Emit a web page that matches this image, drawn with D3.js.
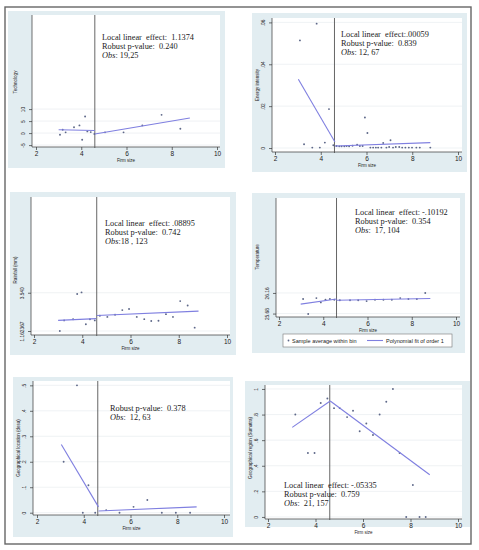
<!DOCTYPE html>
<html>
<head>
<meta charset="utf-8">
<script src="https://cdn.jsdelivr.net/npm/d3@7"></script>
<style>
  body { margin: 0; background: #fff; }
  svg { display: block; }
  .note { white-space: pre; }
</style>
</head>
<body>
<svg width="479" height="550"></svg>
<script>
// values
var xTicks = [2, 4, 6, 8, 10];
var cutoff = 4.6;

var techX = [3.06, 3.18, 3.31, 3.68, 3.92, 4.04, 4.17, 4.27, 4.42, 4.58, 5.05, 5.87, 6.7, 7.55, 8.38];
var techY = [-0.7, 1.4, 0.3, 2.4, 3.2, -2.8, 6.9, 0.7, 0.4, -0.4, 0.3, 0.3, 3.2, 7.6, 1.8];
var techFitLeft = [[3.0, 1.4], [4.6, 1.1]];
var techFitRight = [[4.6, -0.4], [8.8, 6.25]];
var techTicks = [-5, 0, 5, 10];
var techTickLabels = ["-5", "0", "5", "10"];
var techNotes = ["Local linear  effect:  1.1374", "Robust p-value:  0.240", "Obs: 19,25"];

var energyX = [3.09, 3.82, 3.27, 3.63, 3.96, 4.18, 4.36, 4.55,
  4.69, 4.81, 4.91, 5.03, 5.13, 5.24, 5.39, 5.59, 5.71, 5.83, 5.93, 6.04, 6.17, 6.29, 6.41, 6.51,
  6.65, 6.73, 6.87, 6.99, 7.05, 7.16, 7.28, 7.43, 7.56, 7.7, 7.85, 7.99, 8.18, 8.33, 8.79];
var energyY = [0.0514, 0.0594, 0.0018, 0.0002, 0.0002, 0.0026, 0.0186, 0.0013,
  0.001, 0.0008, 0.0008, 0.0008, 0.001, 0.0008, 0.0011, 0.0016, 0.001, 0.001, 0.0146, 0.0072, 0.0002, 0.0002, 0.0002, 0.0002,
  0.0002, 0.0024, 0.0002, 0.0005, 0.0037, 0.0002, 0.0005, 0.0005, 0.0002, 0.0002, 0.0002, 0.0002, 0.0002, 0.0002, 0.0002];
var energyFitLeft = [[3.02, 0.0328], [4.62, 0.0029]];
var energyFitRight = [[4.62, 0.001], [8.79, 0.0026]];
var energyTicks = [0, 0.02, 0.04, 0.06];
var energyTickLabels = ["0", ".02", ".04", ".06"];
var energyNotes = ["Local linear  effect:.00059", "Robust p-value:  0.839", "Obs: 12, 67"];

var rainX = [3.07, 3.25, 3.62, 3.79, 3.97, 4.15, 4.32, 4.52, 4.73, 5.04, 5.36, 5.66, 5.94, 6.26, 6.57, 6.86, 7.16, 7.47, 7.76, 8.06, 8.37, 8.66];
var rainY = [1.16, 1.82, 1.89, 3.46, 3.56, 1.58, 1.89, 1.82, 2.11, 2.04, 2.17, 2.46, 2.53, 2.04, 1.9, 1.78, 1.8, 2.21, 2.04, 3.02, 2.75, 1.37];
var rainFitLeft = [[3.0, 1.82], [4.58, 1.93]];
var rainFitRight = [[4.6, 2.13], [8.82, 2.40]];
var rainTicks = [1.162367, 3.540];
var rainTickLabels = ["1.162367", "3.540"];
var rainNotes = ["Local linear  effect: .08895", "Robust p-value:  0.742", "Obs:18 , 123"];

var tempX = [3.09, 3.32, 3.69, 3.89, 4.1, 4.3, 4.5, 4.75, 5.21, 5.58, 5.96, 6.34, 6.72, 7.1, 7.48, 7.85, 8.23, 8.61];
var tempY = [26.02, 25.67, 26.04, 25.94, 26.0, 26.02, 26.0, 25.99, 25.99, 25.99, 25.97, 26.0, 26.0, 26.0, 26.04, 26.02, 26.02, 26.16];
var tempFitLeft = [[2.98, 25.90], [4.6, 26.02]];
var tempFitRight = [[4.6, 25.99], [8.84, 26.03]];
var tempTicks = [25.68, 26.16];
var tempTickLabels = ["25.68", "26.16"];
var tempNotes = ["Local linear  effect: -.10192", "Robust p-value:  0.354", "Obs:  17, 104"];

var locX = [3.14, 3.71, 3.96, 4.2, 4.49, 4.96, 5.53, 6.13, 6.72, 7.34, 7.94, 8.55];
var locY = [0.2, 0.5, 0, 0.108, 0, 0.01, 0, 0.023, 0.05, 0, 0, 0];
var locFitLeft = [[3.04, 0.268], [4.63, 0.023]];
var locFitRight = [[4.63, 0.0065], [8.83, 0.023]];
var locTicks = [0, 0.1, 0.2, 0.3, 0.4, 0.5];
var locTickLabels = ["0", ".1", ".2", ".3", ".4", ".5"];
var locNotes = ["Robust p-value:  0.378", "Obs:  12, 63"];

var regX = [3.15, 3.68, 3.96, 4.22, 4.5, 4.78, 5.02, 5.33, 5.58, 5.86, 6.14, 6.42, 6.7, 6.98, 7.26, 7.54, 7.82, 8.1, 8.38, 8.64];
var regY = [0.8, 0.5, 0.5, 0.89, 0.925, 0.85, 0.85, 0.78, 0.83, 0.67, 0.73, 0.64, 0.8, 0.9, 1.0, 0.5, 0, 0.25, 0, 0];
var regFitLeft = [[3.02, 0.70], [4.62, 0.906]];
var regFitRight = [[4.62, 0.906], [8.81, 0.33]];
var regTicks = [0, 0.2, 0.4, 0.6, 0.8, 1];
var regTickLabels = ["0", ".2", ".4", ".6", ".8", "1"];
var regNotes = ["Local linear  effect: -.05335", "Robust p-value:  0.759", "Obs:  21, 157"];

var legendLabels = ["Sample average within bin", "Polynomial fit of order 1"];

// layout of the six panels: bg box, plot box [x0,y0,x1,y1], x range for 2..10, y domain
var panels = [
  { xs: techX, ys: techY, fitL: techFitLeft, fitR: techFitRight, ticks: techTicks, tickLabels: techTickLabels,
    notes: techNotes, title: "Technology", bg: [8, 11, 225, 168], plot: [32, 15, 220, 147],
    xr: [36, 217], yd: [-5.8, 49.2], ytx: 17, yty: 82, notePos: [102, 40] },
  { xs: energyX, ys: energyY, fitL: energyFitLeft, fitR: energyFitRight, ticks: energyTicks, tickLabels: energyTickLabels,
    notes: energyNotes, title: "Energy intensity", bg: [252, 13, 467, 172], plot: [272, 18, 462, 152],
    xr: [275, 458], yd: [-0.0019, 0.0621], ytx: 259, yty: 85, notePos: [341, 37] },
  { xs: rainX, ys: rainY, fitL: rainFitLeft, fitR: rainFitRight, ticks: rainTicks, tickLabels: rainTickLabels,
    notes: rainNotes, title: "Rainfall (mm)", bg: [10, 192, 236, 355], plot: [31, 197, 230, 335],
    xr: [34, 227], yd: [0.914, 9.49], ytx: 17, yty: 270, notePos: [105, 226] },
  { xs: tempX, ys: tempY, fitL: tempFitLeft, fitR: tempFitRight, ticks: tempTicks, tickLabels: tempTickLabels,
    notes: tempNotes, title: "Temperature", bg: [252, 193, 465, 353], plot: [276, 198, 460, 317],
    xr: [279, 456], yd: [25.6, 28.37], ytx: 259, yty: 257, notePos: [355, 215], legend: true },
  { xs: locX, ys: locY, fitL: locFitLeft, fitR: locFitRight, ticks: locTicks, tickLabels: locTickLabels,
    notes: locNotes, title: "Geographical location (desa)", bg: [13, 377, 233, 537], plot: [33, 381, 230, 515],
    xr: [37, 224], yd: [-0.009, 0.517], ytx: 20, yty: 448, notePos: [110, 411] },
  { xs: regX, ys: regY, fitL: regFitLeft, fitR: regFitRight, ticks: regTicks, tickLabels: regTickLabels,
    notes: regNotes, title: "Geographical region (Sumatra)", bg: [245, 381, 470, 527], plot: [265, 385, 462, 519],
    xr: [268, 458], yd: [-0.016, 1.031], ytx: 252, yty: 448, notePos: [284, 488] }
];

var svg = d3.select("svg");
var fitColor = "#7f7fe0",
    dotColor = "#5d6788",
    sans = "'Liberation Sans', Arial, sans-serif",
    serif = "'Liberation Serif', 'Times New Roman', serif";

// outer frame
svg.append("rect")
  .attr("x", 5).attr("y", 7).attr("width", 466).attr("height", 537)
  .attr("fill", "none").attr("stroke", "#666").attr("stroke-width", 1.4);

panels.forEach(function(p) {
  var g = svg.append("g");
  var x = d3.scaleLinear().domain([2, 10]).range(p.xr);
  var y = d3.scaleLinear().domain(p.yd).range([p.plot[3], p.plot[1]]);

  g.append("rect")
    .attr("x", p.bg[0]).attr("y", p.bg[1])
    .attr("width", p.bg[2] - p.bg[0]).attr("height", p.bg[3] - p.bg[1])
    .attr("fill", "#e2edf1");
  g.append("rect")
    .attr("x", p.plot[0]).attr("y", p.plot[1])
    .attr("width", p.plot[2] - p.plot[0]).attr("height", p.plot[3] - p.plot[1])
    .attr("fill", "#fff");

  // grid lines
  g.selectAll(".grid").data(p.ticks).enter().append("line")
    .attr("x1", p.plot[0]).attr("x2", p.plot[2])
    .attr("y1", function(d) { return y(d); }).attr("y2", function(d) { return y(d); })
    .attr("stroke", "#e4eaec").attr("stroke-width", 0.6);

  // x axis
  var xAxis = g.append("g")
    .attr("transform", "translate(0," + p.plot[3] + ")")
    .call(d3.axisBottom(x).tickValues(xTicks).tickSize(3).tickSizeOuter(0).tickPadding(1.5));
  xAxis.select(".domain").attr("d", "M" + p.plot[0] + ",0H" + p.plot[2]);
  xAxis.selectAll("line, path").attr("stroke", "#333").attr("stroke-width", 0.7);
  xAxis.selectAll("text").attr("font-family", sans).attr("font-size", 6.5).attr("fill", "#222");

  g.append("text")
    .attr("x", (p.plot[0] + p.plot[2]) / 2).attr("y", p.plot[3] + 15)
    .attr("text-anchor", "middle").attr("font-family", sans).attr("font-size", 4.5).attr("fill", "#222")
    .text("Firm size");

  // y axis
  var yAxis = g.append("g")
    .attr("transform", "translate(" + p.plot[0] + ",0)")
    .call(d3.axisLeft(y).tickValues(p.ticks).tickSize(3).tickSizeOuter(0)
      .tickFormat(function(d, i) { return p.tickLabels[i]; }));
  yAxis.select(".domain").attr("d", "M0," + p.plot[3] + "V" + p.plot[1]);
  yAxis.selectAll("line, path").attr("stroke", "#333").attr("stroke-width", 0.7);
  yAxis.selectAll("text")
    .attr("x", null).attr("dy", null)
    .attr("transform", "translate(-7,0) rotate(-90)")
    .attr("text-anchor", "middle")
    .attr("font-family", sans).attr("font-size", 4.8).attr("fill", "#222");

  g.append("text")
    .attr("transform", "translate(" + p.ytx + "," + p.yty + ") rotate(-90)")
    .attr("text-anchor", "middle").attr("font-family", sans).attr("font-size", 4.5).attr("fill", "#222")
    .text(p.title);

  // cutoff
  g.append("line")
    .attr("x1", x(cutoff)).attr("x2", x(cutoff))
    .attr("y1", p.plot[1]).attr("y2", p.plot[3] + 1)
    .attr("stroke", "#555").attr("stroke-width", 0.9);

  // bin means
  g.selectAll(".dot").data(d3.zip(p.xs, p.ys)).enter().append("circle")
    .attr("cx", function(d) { return x(d[0]); })
    .attr("cy", function(d) { return y(d[1]); })
    .attr("r", 0.95).attr("fill", dotColor);

  // linear fits on either side
  var line = d3.line().x(function(d) { return x(d[0]); }).y(function(d) { return y(d[1]); });
  [p.fitL, p.fitR].forEach(function(seg) {
    g.append("path").attr("d", line(seg))
      .attr("fill", "none").attr("stroke", fitColor).attr("stroke-width", 1.1);
  });

  // annotation, last line starts with an italic "Obs"
  var note = g.append("text").attr("class", "note")
    .attr("font-family", serif).attr("font-size", 8.3).attr("fill", "#222");
  p.notes.forEach(function(t, i) {
    var ts = note.append("tspan").attr("x", p.notePos[0]).attr("y", p.notePos[1] + i * 8.8);
    if (t.indexOf("Obs") === 0) {
      ts.append("tspan").attr("font-style", "italic").text("Obs");
      ts.append("tspan").text(t.slice(3));
    } else {
      ts.text(t);
    }
  });

  if (p.legend) {
    var lg = g.append("g");
    lg.append("rect").attr("x", 283).attr("y", 334).attr("width", 169).attr("height", 13)
      .attr("fill", "#fff").attr("stroke", "#777").attr("stroke-width", 0.6);
    lg.append("circle").attr("cx", 288.5).attr("cy", 340.5).attr("r", 0.9).attr("fill", dotColor);
    lg.append("text").attr("x", 292).attr("y", 342.5)
      .attr("font-family", sans).attr("font-size", 5.5).attr("fill", "#222").text(legendLabels[0]);
    lg.append("line").attr("x1", 367).attr("x2", 383).attr("y1", 340.5).attr("y2", 340.5)
      .attr("stroke", fitColor).attr("stroke-width", 1.1);
    lg.append("text").attr("x", 386).attr("y", 342.5)
      .attr("font-family", sans).attr("font-size", 5.5).attr("fill", "#222").text(legendLabels[1]);
  }
});
</script>
</body>
</html>
